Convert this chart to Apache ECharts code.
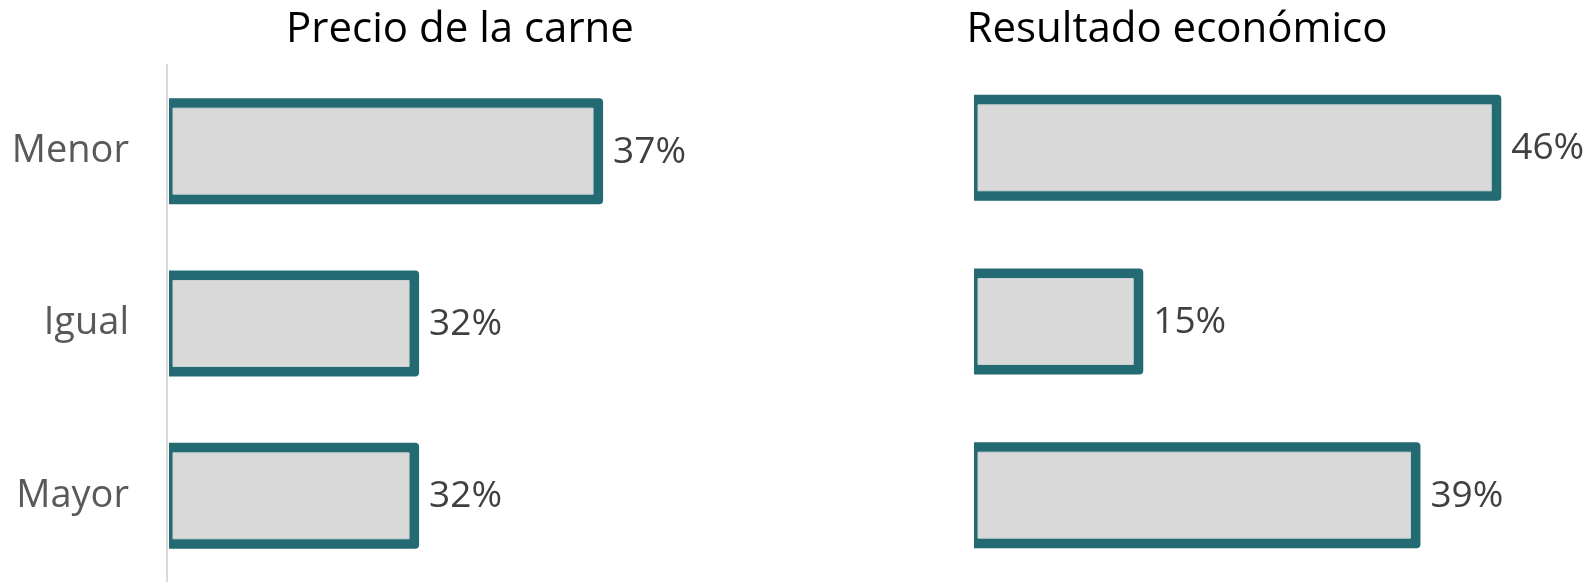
<!DOCTYPE html>
<html>
<head>
<meta charset="utf-8">
<script src="https://cdn.jsdelivr.net/npm/echarts@6/dist/echarts.min.js"></script>
<style>
html,body{margin:0;padding:0;background:#fff;}
#chart{width:1589px;height:582px;}
</style>
</head>
<body>
<div id="chart"></div>
<script>
const categories = ['Menor', 'Igual', 'Mayor'];
const titles = ['Precio de la carne', 'Resultado económico'];
const precioCarne = [37, 32, 32];
const resultadoEconomico = [46, 15, 39];

const FONT = 'Open Sans';
const TEAL = '#236a72';
const FILL = '#d9d9d9';
const BAR_H = 106;
const BORDER = 10;
const BORDER_LEFT = 4;

const chart = echarts.init(document.getElementById('chart'));

function barSeries(values, idx, axisMin, startGap) {
  return {
    type: 'custom',
    xAxisIndex: idx,
    yAxisIndex: idx,
    encode: { x: 0, y: 1 },
    data: values.map((v, i) => [v, i]),
    silent: true,
    renderItem: function (params, api) {
      const val = api.value(0);
      const cat = api.value(1);
      const start = api.coord([axisMin, cat]);
      const end = api.coord([val, cat]);
      const x0 = start[0] + startGap;
      const x1 = end[0];
      const top = end[1] - BAR_H / 2;
      return {
        type: 'group',
        children: [
          { type: 'rect',
            shape: { x: x0, y: top, width: x1 - x0, height: BAR_H, r: [0, 4, 4, 0] },
            style: { fill: TEAL } },
          { type: 'rect',
            shape: { x: x0 + BORDER_LEFT, y: top + BORDER,
                     width: x1 - x0 - BORDER_LEFT - BORDER, height: BAR_H - 2 * BORDER },
            style: { fill: FILL, stroke: '#c9d3d4', lineWidth: 1 } },
          { type: 'text',
            style: { text: val + '%', x: x1 + 10, y: end[1] + 1,
                     align: 'left', verticalAlign: 'middle',
                     fontFamily: FONT, fontSize: 37, fill: '#404040' } }
        ]
      };
    }
  };
}

const leftMin = 25.15, leftMax = 41.15;
const rightMin = 0, rightMax = 50;

chart.setOption({
  animation: false,
  title: [
    { text: titles[0], left: 455, top: 4, textAlign: 'center',
      textStyle: { fontFamily: FONT, fontSize: 42, fontWeight: 'normal', color: '#000' } },
    { text: titles[1], left: 1172, top: 4, textAlign: 'center',
      textStyle: { fontFamily: FONT, fontSize: 42, fontWeight: 'normal', color: '#000' } }
  ],
  grid: [
    { left: 167, top: 65, width: 588.8, height: 521 },
    { left: 970, top: 61, width: 577.5, height: 534 }
  ],
  xAxis: [
    { type: 'value', gridIndex: 0, min: leftMin, max: leftMax, show: false, splitLine: { show: false } },
    { type: 'value', gridIndex: 1, min: rightMin, max: rightMax, show: false, splitLine: { show: false } }
  ],
  yAxis: [
    { type: 'category', gridIndex: 0, data: categories, inverse: true,
      axisLine: { show: true, lineStyle: { color: '#d9d9d9', width: 2 } },
      axisTick: { show: false },
      axisLabel: { margin: 38, fontFamily: FONT, fontSize: 38, color: '#595959' } },
    { type: 'category', gridIndex: 1, data: categories, inverse: true,
      axisLine: { show: false }, axisTick: { show: false }, axisLabel: { show: false } }
  ],
  series: [
    barSeries(precioCarne, 0, leftMin, 2),
    barSeries(resultadoEconomico, 1, rightMin, 4)
  ]
});
</script>
</body>
</html>
